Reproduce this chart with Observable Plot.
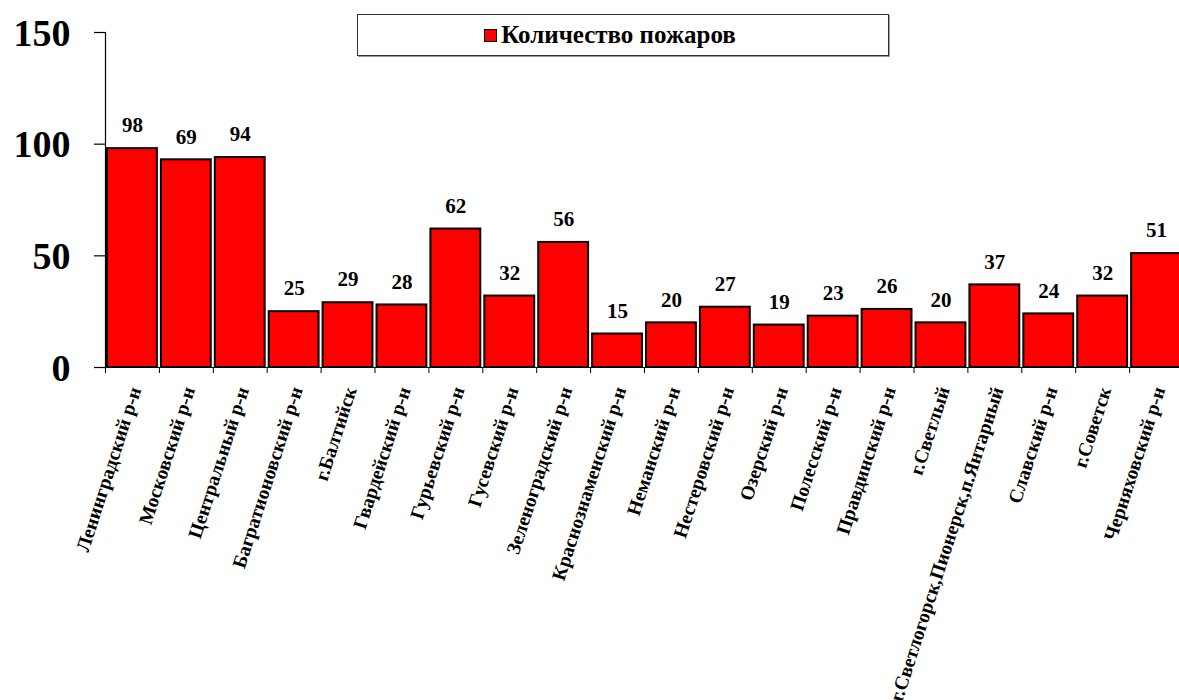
<!DOCTYPE html>
<html><head><meta charset="utf-8">
<script src="https://cdn.jsdelivr.net/npm/d3@7"></script>
<script src="https://cdn.jsdelivr.net/npm/@observablehq/plot@0.6"></script>
<style>
body{margin:0;background:#fff;}
#wrap{position:relative;width:1179px;height:700px;overflow:hidden;}
#legend{position:absolute;left:357px;top:14px;width:530px;height:40px;border:1px solid #333;box-shadow:1px 1px 0 #999;background:#fff;display:flex;align-items:center;justify-content:center;font:bold 25px "Liberation Serif","Times New Roman",serif;color:#000;}
#legend .in{display:flex;align-items:center;transform:translateX(-13px);}
#legend .sw{display:inline-block;width:11px;height:11px;background:#ff0000;border:1.5px solid #000;margin-right:4px;}
</style></head>
<body><div id="wrap"><div id="legend"><div class="in"><span class="sw"></span>Количество пожаров</div></div></div>
<script>
const districts = ["Ленинградский р-н","Московский р-н","Центральный р-н","Багратионовский р-н","г.Балтийск","Гвардейский р-н","Гурьевский р-н","Гусевский р-н","Зеленоградский р-н","Краснознаменский р-н","Неманский р-н","Нестеровский р-н","Озерский р-н","Полесский р-н","Правдинский р-н","г.Светлый","г.Светлогорск,Пионерск,п.Янтарный","Славский р-н","г.Советск","Черняховский р-н"];
const fires = [98,93,94,25,29,28,62,32,56,15,20,27,19,23,26,20,37,24,32,51];
const valueLabels = ["98","69","94","25","29","28","62","32","56","15","20","27","19","23","26","20","37","24","32","51"];
const yTicks = [0,50,100,150];

const data = districts.map((d,i)=>({district:d, fires:fires[i], label:valueLabels[i]}));
const W = 1179, H = 700, mL = 105, mR = -4;
const step = (W - mL - mR) / districts.length;
const font = '"Liberation Serif","Times New Roman",serif';
const first = () => districts[0];

const chart = Plot.plot({
  width: W, height: H,
  marginLeft: mL, marginRight: mR, marginTop: 32, marginBottom: 333,
  style: {fontFamily: font, background: "transparent", overflow: "visible"},
  x: {domain: districts, paddingInner: 0.075, paddingOuter: 0.0375, round: false, axis: null},
  y: {domain: [0,150], axis: null},
  marks: [
    Plot.barY(data, {x:"district", y:"fires", fill:"#ff0000", stroke:"#000", strokeWidth:2}),
    Plot.ruleY([0], {stroke:"#000", strokeWidth:1.2}),
    Plot.ruleX([districts[0]], {x:d=>d, y1:0, y2:150, dx:-step/2, stroke:"#000", strokeWidth:1.2}),
    Plot.ruleX(districts, {x:d=>d, y1:0, y2:-2.7, dx:-step/2, stroke:"#000", strokeWidth:1}),
    Plot.axisY({ticks: yTicks, tickSize: 11, tickFormat: () => "", label: null, stroke: "#000", strokeWidth: 1.2}),
    Plot.text(yTicks, {y:d=>d, x:first, text:d=>String(d), textAnchor:"end", dx:-step/2 - 35, dy:1, fontFamily:font, fontSize:38, fontWeight:"bold", fill:"#000"}),
    Plot.text(data, {x:"district", y:"fires", text:"label", dy:-23, fontFamily:font, fontSize:21, fontWeight:"bold", fill:"#000"}),
    Plot.text(data, {x:"district", y:0, text:"district", rotate:-72, textAnchor:"end", lineAnchor:"middle", dx:3, dy:20, fontFamily:font, fontSize:19.5, fontWeight:"bold", fill:"#000"})
  ]
});
document.getElementById("wrap").prepend(chart);
</script></body></html>
